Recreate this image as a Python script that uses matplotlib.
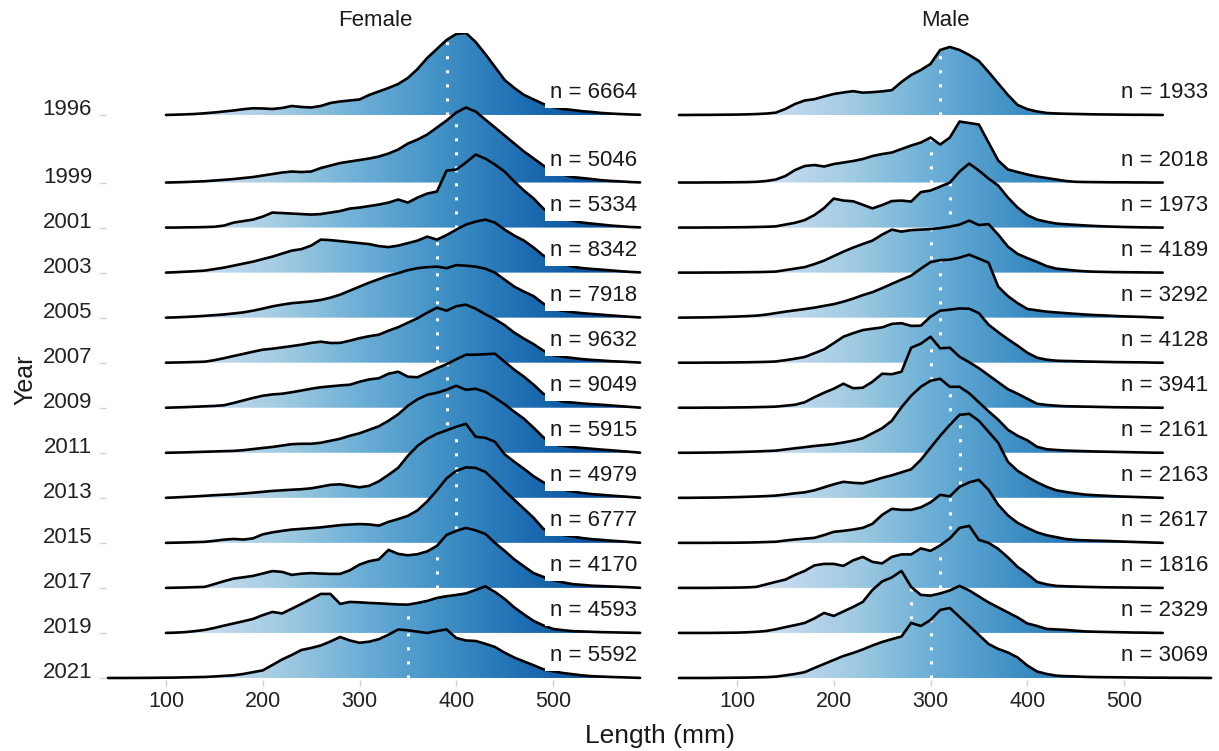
import numpy as np
import matplotlib
matplotlib.use("Agg")
import matplotlib.pyplot as plt
from matplotlib.patches import Polygon
from matplotlib.colors import Normalize

plt.rcParams['font.family'] = ['Liberation Sans', 'DejaVu Sans']

# ---------------- data ----------------
years = [1996, 1999, 2001, 2003, 2005, 2007, 2009, 2011, 2013, 2015, 2017, 2019, 2021]
female_n = [6664, 5046, 5334, 8342, 7918, 9632, 9049, 5915, 4979, 6777, 4170, 4593, 5592]
male_n = [1933, 2018, 1973, 4189, 3292, 4128, 3941, 2161, 2163, 2617, 1816, 2329, 3069]
female_median = [390, 400, 400, 380, 380, 380, 390, 390, 400, 400, 380, 350, 350]
male_median = [310, 300, 320, 300, 310, 310, 300, 320, 330, 320, 310, 280, 300]

# first length (mm) of each density curve; samples every 10 mm
female_start = [100, 100, 100, 100, 100, 100, 100, 100, 100, 100, 100, 100, 40]
male_start = [40, 40, 40, 40, 40, 40, 40, 40, 40, 40, 40, 40, 40]
step_mm = 10

# relative density heights
female_1996 = [0, 0.3, 0.6, 1, 1.7, 2.5, 3.5, 4.5, 5.8, 6.7,
               6.5, 6, 7, 9, 8, 7.5, 9, 12, 13.5, 14.5,
               15.5, 20, 23.5, 27, 31, 37, 46, 57, 66, 75,
               81, 82, 73, 61, 48, 35, 27, 20, 15.5, 11,
               8, 6, 5, 3.8, 3, 2, 1.4, 0.9, 0.5, 0.2]
female_1999 = [0, 0.2, 0.5, 0.9, 1.3, 2, 2.7, 3.5, 4.5, 5.5,
               7, 8.5, 10, 11, 10.5, 11, 14.5, 17, 19.5, 21,
               22.5, 24, 26, 29, 33, 39, 43, 48, 55, 62,
               70, 75, 71, 63, 55, 47, 39, 31, 24, 17,
               11.5, 8, 5.5, 4.5, 3.5, 2.3, 1.6, 1.1, 0.5, 0.1]
female_2001 = [0, 0, 0.2, 0.3, 0.5, 0.8, 2, 5, 6.5, 8,
               11, 15, 14.5, 14, 13.5, 13, 13.5, 15, 16.5, 19,
               20, 21.5, 23, 25, 28, 25, 30, 34, 36, 57,
               58, 65, 73, 69, 63, 56, 46, 37, 29, 19,
               12, 9, 7, 5, 4, 3, 2, 1.3, 0.6, 0.2]
female_2003 = [0, 0.4, 0.9, 1.4, 2, 3.5, 5, 7, 9, 11,
               13.5, 16, 19, 22, 23.5, 27, 33, 32.5, 31.5, 30.5,
               29.5, 28.5, 26.5, 25.5, 27, 29.5, 32, 36, 33, 37.5,
               43, 48, 51, 53, 50, 43, 37, 32, 25, 17,
               12.5, 9, 6, 4.5, 3.7, 3, 2.2, 1.4, 0.7, 0.2]
female_2005 = [0, 0.3, 0.7, 1.2, 1.8, 2.5, 3.2, 4.2, 5.3, 7,
               9, 11.3, 13, 14.5, 15.3, 16.3, 17.7, 20, 23, 27,
               31, 35, 38.5, 42, 44.5, 47.5, 49.5, 50.5, 51, 49.5,
               52.5, 52, 51, 49, 45, 38, 31, 26, 21.5, 14,
               8.5, 7, 5.5, 4.5, 3.7, 3, 2.2, 1.5, 0.8, 0.2]
female_2007 = [0, 0.2, 0.4, 0.7, 1, 2.5, 4.5, 6.7, 8.8, 11,
               13, 14, 15.3, 16.6, 18, 19.8, 21, 19.7, 19.8, 22,
               24.5, 26.5, 28, 32, 35.5, 40, 44.5, 50, 55, 52,
               56.5, 58, 54, 48.5, 43.5, 37.5, 30, 24, 18.5, 12,
               7.5, 6, 4.7, 3.6, 2.8, 2.2, 1.5, 1.1, 0.6, 0.1]
female_2009 = [0, 0.3, 0.6, 1, 1.4, 1.8, 2.5, 4.8, 7.3, 9.8,
               12, 13.3, 14, 15.5, 17.2, 19, 20.5, 21.4, 22.3, 23,
               26, 28.3, 29.5, 34, 36, 31, 30.5, 35, 39.5, 43.5,
               48.5, 53, 53, 53.5, 54, 46, 38, 31, 23, 14,
               9.5, 6, 5.2, 4.3, 3.6, 3, 2.3, 1.5, 0.8, 0.1]
female_2011 = [0, 0.2, 0.4, 0.7, 1, 1.3, 1.6, 1.9, 2.6, 3.7,
               4.8, 5.8, 7.2, 8.6, 9, 9, 10, 12, 14, 17,
               19.5, 23, 26.5, 32, 38.5, 47, 53.5, 58, 60, 63,
               67, 63, 64, 61, 55, 48.5, 41, 34, 25, 15.5,
               8.5, 7, 5.7, 4.8, 4, 3.2, 2.5, 1.7, 0.9, 0.1]
female_2013 = [0, 0.4, 0.9, 1.4, 2, 2.6, 3.1, 3.6, 4.3, 5.1,
               6, 6.9, 7.5, 8.1, 8.6, 9.5, 11.2, 13, 13.5, 12,
               10.5, 12, 16.5, 23, 30, 42, 52, 59, 64, 67.5,
               71, 74, 61, 60, 56, 43.5, 36, 29, 21.5, 15.5,
               11, 8.3, 6.4, 4.8, 3.7, 3, 2.2, 1.5, 0.8, 0.1]
female_2015 = [0, 0.2, 0.4, 0.7, 1, 2, 3.2, 3.9, 3.3, 4.5,
               8.5, 10.5, 12, 13.3, 14, 14.7, 15.5, 16.6, 17.7, 18.3,
               18.8, 18.4, 17.2, 21, 23.8, 27, 32.5, 41.5, 52.5, 64.5,
               72, 75.5, 75, 71, 62, 52, 43, 34, 25, 14,
               10.8, 8, 6.4, 4.8, 3.7, 3, 2.2, 1.5, 0.8, 0.1]
female_2017 = [0, 0.2, 0.4, 0.7, 1, 3.8, 6.7, 9.3, 10.6, 12,
               14.4, 16.8, 16, 13, 14.2, 14.8, 14.3, 14, 14, 17.6,
               23.3, 26.7, 28.5, 38, 34, 32.6, 33.7, 36.5, 42, 53,
               57, 60, 57.5, 54, 45, 37, 28.5, 21.5, 14.7, 11,
               7.8, 5.6, 3.8, 3, 2.2, 1.8, 1.4, 1, 0.6, 0.1]
female_2019 = [0, 0.3, 0.8, 1.8, 3, 5, 7.3, 9.5, 11.7, 14,
               17.8, 21, 19.5, 24.2, 29, 34, 39, 39, 29, 31,
               30.6, 30, 29.6, 29, 28.5, 28.3, 30, 32, 35, 36.7,
               38, 39.5, 43, 46.6, 41, 34, 25.5, 18.5, 12, 7.5,
               4, 2.8, 1.8, 1.5, 1.1, 0.8, 0.6, 0.4, 0.2, 0.05]
female_2021 = [0, 0, 0, 0.05, 0.1, 0.2,
               0.3, 0.4, 0.6, 0.8, 1, 1.5, 2.1, 2.7, 4, 5.8,
               7.6, 13, 18.5, 23, 28, 30, 32.5, 36.5, 41, 37.5,
               35.2, 36.3, 38.8, 43.3, 48.5, 47.7, 46.3, 45, 47, 48.5,
               40, 37.5, 37, 34.2, 31, 25.3, 20.4, 16.5, 12.7, 8.7,
               6.7, 5, 3.8, 2.6, 1.8, 1.4, 1, 0.7, 0.4, 0.1]

male_1996 = [0, 0, 0.1, 0.1, 0.2, 0.3, 0.4, 0.6, 0.9, 1.4,
             2.3, 6, 11, 14.5, 15.8, 18.5, 21, 22.5, 23.8, 22.3,
             22.8, 23.6, 24.8, 33, 40, 45, 51, 65, 68, 65,
             60, 54, 43, 31.5, 20, 10, 5.8, 3.5, 2, 1.5,
             1.2, 1, 0.8, 0.6, 0.5, 0.4, 0.3, 0.2, 0.2, 0.1, 0]
male_1999 = [0, 0, 0, 0.1, 0.1, 0.2, 0.3, 0.4, 0.7, 1.5,
             3, 6.5, 12.5, 16.5, 17.5, 16, 18.5, 20, 21.5, 23.5,
             26.5, 28.5, 30, 33.5, 37, 40, 45, 38, 45, 61,
             59.5, 58, 40, 22, 13, 10.5, 8, 6, 4.5, 3,
             1.5, 0.7, 0.5, 0.4, 0.3, 0.2, 0.2, 0.1, 0.1, 0, 0]
male_2001 = [0, 0, 0, 0.1, 0.1, 0.2, 0.3, 0.4, 0.6, 0.8,
             1.2, 3, 4.8, 7.5, 12.5, 19.5, 29, 27, 26.3, 22.8,
             19.2, 22.5, 26.5, 27, 26, 35.5, 37, 41, 45, 56,
             64, 57, 49, 42, 30, 20, 12.5, 8, 5.8, 4,
             3.3, 2.7, 2.1, 1.6, 1.2, 0.9, 0.6, 0.4, 0.2, 0.1, 0]
male_2003 = [0, 0, 0, 0.1, 0.1, 0.2, 0.3, 0.4, 0.5, 0.7,
             1, 2.5, 4, 5.5, 8.5, 12, 16.5, 21, 25, 28.6,
             32, 38, 43, 41, 42.5, 43, 43.5, 44.5, 46, 48,
             52, 47.5, 48.5, 38, 26, 18.7, 14.5, 10.7, 6.5, 4,
             3, 2, 1.3, 0.9, 0.7, 0.5, 0.4, 0.3, 0.2, 0.1, 0]
male_2005 = [0, 0.1, 0.2, 0.3, 0.5, 0.8, 1.1, 1.5, 2, 3,
             4.5, 6, 7.3, 8.6, 10, 11.8, 13.5, 16, 19, 22.5,
             25.5, 29.5, 33.8, 38, 42, 49, 55.5, 57.5, 58, 60,
             63, 59, 55, 31, 21.5, 14.5, 8.7, 7.3, 6, 5.2,
             4.5, 3.8, 3.1, 2.6, 2.2, 1.7, 1.3, 1, 0.7, 0.3, 0]
male_2007 = [0, 0, 0, 0.1, 0.1, 0.2, 0.3, 0.4, 0.6, 0.8,
             1.2, 2.5, 4, 5.7, 9.5, 13.3, 19.5, 26, 29.5, 32.6,
             34, 35.3, 38.8, 39.5, 36.8, 37, 46, 52, 53, 54.2,
             54, 49.5, 38, 30.5, 23.5, 17, 10, 5, 3, 2,
             1.7, 1.5, 1.2, 1, 0.8, 0.6, 0.5, 0.4, 0.3, 0.1, 0]
male_2009 = [0, 0, 0, 0.1, 0.1, 0.2, 0.3, 0.4, 0.6, 0.8,
             1.1, 2, 3, 5.5, 10.5, 15, 19, 24, 19.5, 20,
             26, 34, 33.5, 36, 60, 64, 71, 59.5, 60, 51,
             45.5, 39.5, 32.5, 25.5, 18.5, 14, 9, 4, 2.8, 2,
             1.5, 1.3, 1.1, 0.9, 0.7, 0.5, 0.4, 0.3, 0.2, 0.1, 0]
male_2011 = [0, 0, 0.1, 0.2, 0.3, 0.5, 0.7, 1, 1.3, 1.7,
             2.1, 3.3, 4.5, 5.6, 6.8, 7.7, 8.7, 10.3, 12.1, 14.5,
             19.5, 24.5, 32, 45.5, 57, 66, 72, 74, 66, 66,
             59.5, 50.5, 41.5, 33, 23, 17, 12.5, 6, 3.5, 2.8,
             2.2, 1.9, 1.6, 1.3, 1.1, 0.9, 0.7, 0.5, 0.3, 0.1, 0]
male_2013 = [0, 0, 0.1, 0.2, 0.3, 0.5, 0.7, 1, 1.3, 1.7,
             2.2, 3.3, 4.5, 5.5, 7.5, 10.5, 13.5, 16, 15, 14.5,
             17, 20, 22.5, 25.5, 28.5, 38, 50, 62, 73, 83,
             84, 77, 66, 55, 36, 27, 21, 15.5, 11, 7.5,
             5.8, 4.4, 3.2, 2.6, 2.1, 1.6, 1.2, 0.9, 0.6, 0.3, 0]
male_2015 = [0, 0, 0, 0, 0.1, 0.1, 0.2, 0.3, 0.5, 0.8,
             1.1, 2.3, 3.4, 4.2, 5, 7.8, 11, 12, 13.3, 15,
             19, 28, 34, 33, 33, 35.5, 40.5, 48, 46.5, 56,
             60.5, 63, 53, 38, 27.5, 20, 15, 10.5, 7.6, 5.7,
             3.8, 2.9, 2.5, 2.2, 2, 1.6, 1.2, 0.9, 0.6, 0.3, 0]
male_2017 = [0, 0, 0, 0, 0.1, 0.2, 0.3, 0.5, 1, 3.5,
             6, 8.3, 13, 17, 22.5, 24, 24, 22, 27.5, 31,
             26, 24.5, 31, 33.5, 33.5, 39.5, 37, 42.5, 49.5, 60,
             62, 48, 45, 39, 30.5, 21, 14, 6, 3.5, 2,
             1.6, 1.3, 1, 0.8, 0.6, 0.5, 0.4, 0.3, 0.2, 0.1, 0]
male_2019 = [0, 0, 0, 0, 0.1, 0.2, 0.3, 0.6, 1.1, 1.9,
             3.6, 5.8, 7.8, 10, 14.5, 20, 17, 21.5, 26, 31,
             43, 51.5, 55.5, 62, 46, 38, 37.3, 39.5, 42.5, 47,
             42.5, 36.5, 30.5, 25.5, 20.5, 15.5, 9.5, 7, 4, 3.5,
             3, 2.2, 1.5, 1.2, 1, 0.8, 0.6, 0.4, 0.3, 0.1, 0]
male_2021 = [0, 0, 0, 0, 0.1, 0.2, 0.3, 0.4, 0.6, 0.8,
             1.3, 2.6, 4, 5.8, 10, 14, 18, 22, 25, 28.5,
             32.5, 36, 38.8, 41.5, 55, 52, 58, 68, 70, 61,
             52, 43, 34, 29, 25.5, 20.5, 12.5, 6.5, 4, 2.3,
             1.8, 1.5, 1.1, 0.9, 0.8, 0.7, 0.6, 0.5, 0.4, 0.3,
             0.3, 0.2, 0.2, 0.1, 0.1, 0]

female_dens = [female_1996, female_1999, female_2001, female_2003, female_2005,
               female_2007, female_2009, female_2011, female_2013, female_2015,
               female_2017, female_2019, female_2021]
male_dens = [male_1996, male_1999, male_2001, male_2003, male_2005,
             male_2007, male_2009, male_2011, male_2013, male_2015,
             male_2017, male_2019, male_2021]

x_ticks = [100, 200, 300, 400, 500]

# ---------------- figure ----------------
W, H = 1219, 751
fig = plt.figure(figsize=(W / 100, H / 100), dpi=100)
xlim = (38, 593)
y_top, y_bot = 1992.36, 2021.09
ax_top_px, ax_bot_px = 33, 680
ax_h = ax_bot_px - ax_top_px
ax_f = fig.add_axes([106 / W, (H - ax_bot_px) / H, 537 / W, ax_h / H])
ax_m = fig.add_axes([677 / W, (H - ax_bot_px) / H, 537 / W, ax_h / H])
px_per_year = ax_h / (y_bot - y_top)

norm = Normalize(vmin=-15, vmax=620)
grad = np.linspace(xlim[0], xlim[1], 600)[None, :]


def draw_panel(ax, dens_list, starts, medians, counts):
    for i, (yr, dens, st, med, n) in enumerate(zip(years, dens_list, starts, medians, counts)):
        d = np.asarray(dens, dtype=float)
        xs = st + step_mm * np.arange(len(d))
        h = d / px_per_year
        ys = yr - h
        z = 10 + 3 * i
        verts = np.vstack([[xs[0], yr], np.column_stack([xs, ys]), [xs[-1], yr]])
        im = ax.imshow(grad, cmap='Blues', norm=norm, aspect='auto',
                       extent=(xlim[0], xlim[1], yr, yr - h.max() - 0.1),
                       interpolation='bilinear', zorder=z)
        poly = Polygon(verts, closed=True, transform=ax.transData)
        im.set_clip_path(poly)
        hm = np.interp(med, xs, h)
        ax.plot([med, med], [yr, yr - hm], color='white', lw=2.2,
                ls=(0, (1.0, 3.6)), dash_capstyle='butt', zorder=z + 1)
        ax.plot(xs, ys, color='black', lw=1.9, solid_joinstyle='round',
                solid_capstyle='round', zorder=z + 2)
        ax.text(587, yr - 0.98, f'n = {n}', ha='right', va='center', fontsize=16,
                color='#1a1a1a', zorder=200,
                bbox=dict(boxstyle='square,pad=0.22', fc='white', ec='none'))
    ax.set_xlim(*xlim)
    ax.set_ylim(y_bot, y_top)
    for s in ax.spines.values():
        s.set_visible(False)
    ax.set_xticks(x_ticks)
    ax.set_xticklabels([str(t) for t in x_ticks], fontsize=15.5, color='#222222')
    ax.tick_params(axis='x', length=4, width=1, color='#cfcfcf', pad=4)
    ax.set_facecolor('none')


draw_panel(ax_f, female_dens, female_start, female_median, female_n)
draw_panel(ax_m, male_dens, male_start, male_median, male_n)

ax_f.set_yticks(years)
ax_f.set_yticklabels([str(y) for y in years], fontsize=16, color='#222222')
for lab in ax_f.get_yticklabels():
    lab.set_verticalalignment('baseline')
ax_f.tick_params(axis='y', length=5, width=1, color='#d5d5d5', pad=5)
ax_m.set_yticks([])

fig.text(375 / W, 1 - 20 / H, 'Female', ha='center', va='center', fontsize=16, color='#1a1a1a')
fig.text(945 / W, 1 - 20 / H, 'Male', ha='center', va='center', fontsize=16, color='#1a1a1a')
fig.text(660 / W, 1 - 736 / H, 'Length (mm)', ha='center', va='center', fontsize=19, color='#1a1a1a')
fig.text(25 / W, 1 - 380 / H, 'Year', ha='center', va='center', rotation=90, fontsize=18, color='#1a1a1a')

fig.savefig('out.png', dpi=100, facecolor='white')
